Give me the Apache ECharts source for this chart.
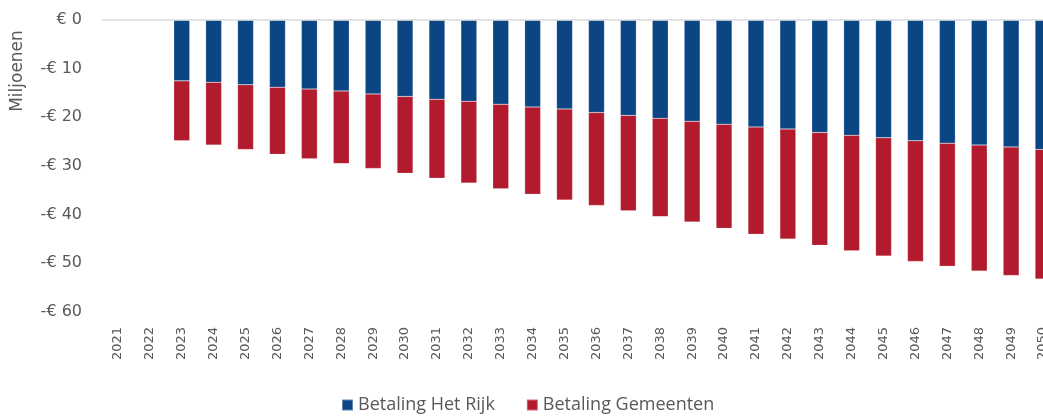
<!DOCTYPE html>
<html lang="nl">
<head>
    <meta charset="UTF-8">
    <script src="https://cdn.jsdelivr.net/npm/echarts@6/dist/echarts.min.js"></script>
    <title>Betalingen</title>
    <style>
        html, body { margin: 0; padding: 0; background: #fff; }
        #main { width: 1043px; height: 417px; }
    </style>
</head>
<body>
    <div id="main"></div>
    <script type="text/javascript">
        // jaren
        var years = ['2021','2022','2023','2024','2025','2026','2027','2028','2029','2030',
            '2031','2032','2033','2034','2035','2036','2037','2038','2039','2040',
            '2041','2042','2043','2044','2045','2046','2047','2048','2049','2050'];
        // betaling Het Rijk (miljoen euro)
        var rijk = [null, null, -12.5, -12.8, -13.3, -13.8, -14.2, -14.6, -15.2, -15.7,
            -16.3, -16.7, -17.3, -17.9, -18.3, -19.0, -19.6, -20.2, -20.8, -21.4,
            -22.0, -22.4, -23.1, -23.7, -24.2, -24.8, -25.3, -25.7, -26.1, -26.6];
        // betaling Gemeenten (miljoen euro)
        var gemeenten = [null, null, -12.3, -12.9, -13.3, -13.8, -14.3, -14.9, -15.3, -15.8,
            -16.2, -16.8, -17.4, -17.9, -18.7, -19.1, -19.6, -20.2, -20.7, -21.4,
            -22.0, -22.6, -23.2, -23.7, -24.3, -24.8, -25.3, -25.9, -26.4, -26.6];
        var yTicks = [0, -10, -20, -30, -40, -50, -60];

        var myChart = echarts.init(document.getElementById('main'));
        var grey = '#595959';

        var option = {
            animation: false,
            legend: {
                left: 341,
                top: 396,
                padding: 0,
                icon: 'rect',
                itemWidth: 11,
                itemHeight: 11,
                itemGap: 31,
                textStyle: { color: grey, fontSize: 18, fontFamily: 'Open Sans' },
                data: ['Betaling Het Rijk', 'Betaling Gemeenten']
            },
            grid: {
                left: 102,
                top: 20,
                width: 957,   // loopt rechts buiten beeld, zoals het origineel
                height: 292,
                outerBoundsMode: 'none'
            },
            graphic: [{
                type: 'text',
                x: 18,
                y: 71,
                rotation: Math.PI / 2,
                style: {
                    text: 'Miljoenen',
                    fill: grey,
                    fontSize: 17,
                    fontFamily: 'DejaVu Sans',
                    align: 'center',
                    verticalAlign: 'middle'
                }
            }],
            xAxis: {
                type: 'category',
                data: years,
                axisLine: { show: false, onZero: false },
                axisTick: { show: false },
                axisLabel: {
                    rotate: 90,
                    margin: 15,
                    fontSize: 13,
                    fontFamily: 'DejaVu Sans',
                    color: grey,
                    interval: 0
                }
            },
            yAxis: {
                type: 'value',
                min: yTicks[yTicks.length - 1],
                max: yTicks[0],
                interval: 10,
                axisLine: { show: false },
                axisTick: { show: false },
                splitLine: { show: false },
                axisLabel: {
                    margin: 20,
                    color: grey,
                    fontSize: 16,
                    fontFamily: 'DejaVu Sans',
                    formatter: function (v) {
                        return v === 0 ? '€ 0' : '-€ ' + Math.abs(v);
                    }
                }
            },
            series: [{
                name: 'Betaling Het Rijk',
                type: 'bar',
                stack: 'totaal',
                barWidth: '50%',
                data: rijk,
                itemStyle: { color: '#0b4584', borderColor: 'rgba(255,255,255,0.35)', borderWidth: 0.5 },
                // nul-lijn
                markLine: {
                    silent: true,
                    symbol: 'none',
                    label: { show: false },
                    lineStyle: { color: '#d9d9d9', type: 'solid', width: 1.5 },
                    data: [{ yAxis: 0 }]
                }
            }, {
                name: 'Betaling Gemeenten',
                type: 'bar',
                stack: 'totaal',
                barWidth: '50%',
                data: gemeenten,
                itemStyle: { color: '#b21b2e', borderColor: 'rgba(255,255,255,0.35)', borderWidth: 0.5 }
            }]
        };
        myChart.setOption(option);
    </script>
</body>
</html>
